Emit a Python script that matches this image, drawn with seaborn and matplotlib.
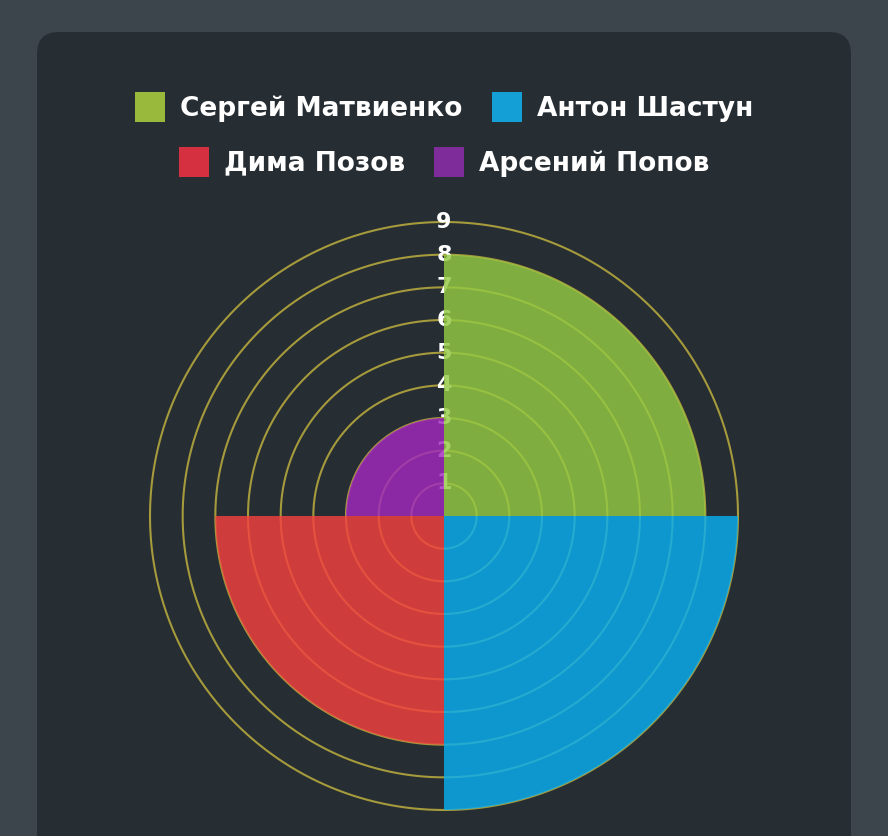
import numpy as np
import matplotlib
matplotlib.use("Agg")
import matplotlib.pyplot as plt
from matplotlib.patches import FancyBboxPatch, Patch
import seaborn as sns

# data
names = ["Сергей Матвиенко", "Антон Шастун", "Дима Позов", "Арсений Попов"]
scores = [8, 9, 7, 3]
ring_values = [1, 2, 3, 4, 5, 6, 7, 8, 9]

wedge_colors = ["#94ca43", "#09aff1", "#f4413f", "#a229bf"]
legend_colors = ["#98b93c", "#14a0d6", "#d5303f", "#7e2c9a"]

sns.set_theme(style="dark")
plt.rcParams["font.family"] = ["DejaVu Sans"]

outer_bg = "#3c454b"
card_bg = "#262d33"
ring_color = "#a59a3c"

fig = plt.figure(figsize=(8.88, 8.36), dpi=100, facecolor=outer_bg)

card = FancyBboxPatch((0.37, -0.4), 8.14, 8.44, boxstyle="round,pad=0,rounding_size=0.22",
                      transform=fig.dpi_scale_trans, facecolor=card_bg, edgecolor="none", zorder=0)
fig.add_artist(card)

# r=9 sits at 294 px from the centre (444, 516); leave a little room for the outer ring
rmax = 9.15
rad_px = 294 * rmax / 9
ax = fig.add_axes([(444 - rad_px) / 888, (320 - rad_px) / 836, 2 * rad_px / 888, 2 * rad_px / 836],
                  projection="polar")
ax.set_facecolor("none")
ax.set_theta_zero_location("N")
ax.set_theta_direction(-1)

# rings + tick labels go under the semi-transparent wedges
theta_line = np.linspace(0, 2 * np.pi, 721)
for r in ring_values:
    ax.plot(theta_line, np.full_like(theta_line, r), color=ring_color, lw=1.5, zorder=1)
    ax.text(0, r, str(r), ha="center", va="center", color="white", fontsize=16,
            fontweight="bold", zorder=1.5)

palette = sns.color_palette(wedge_colors)
width = 2 * np.pi / len(names)
angles = np.arange(len(names)) * width + width / 2
ax.bar(angles, scores, width=width, color=palette, alpha=0.82, edgecolor="none", zorder=2)

ax.set_ylim(0, rmax)
ax.set_xticks([])
ax.set_yticks([])
ax.grid(False)
ax.spines["polar"].set_visible(False)

handles = [Patch(facecolor=c, edgecolor="none", label=n) for n, c in zip(names, legend_colors)]
legend_kw = dict(loc="center", ncol=2, frameon=False, handlelength=1.14, handleheight=1.37,
                 handletextpad=0.57, columnspacing=1.1, labelcolor="white",
                 prop={"family": "DejaVu Sans", "weight": "bold", "size": 19})
fig.legend(handles=handles[:2], bbox_to_anchor=(0.5, 1 - 107 / 836), **legend_kw)
fig.legend(handles=handles[2:], bbox_to_anchor=(0.5, 1 - 162 / 836), **legend_kw)

fig.savefig("out.png", dpi=100, facecolor=outer_bg)
